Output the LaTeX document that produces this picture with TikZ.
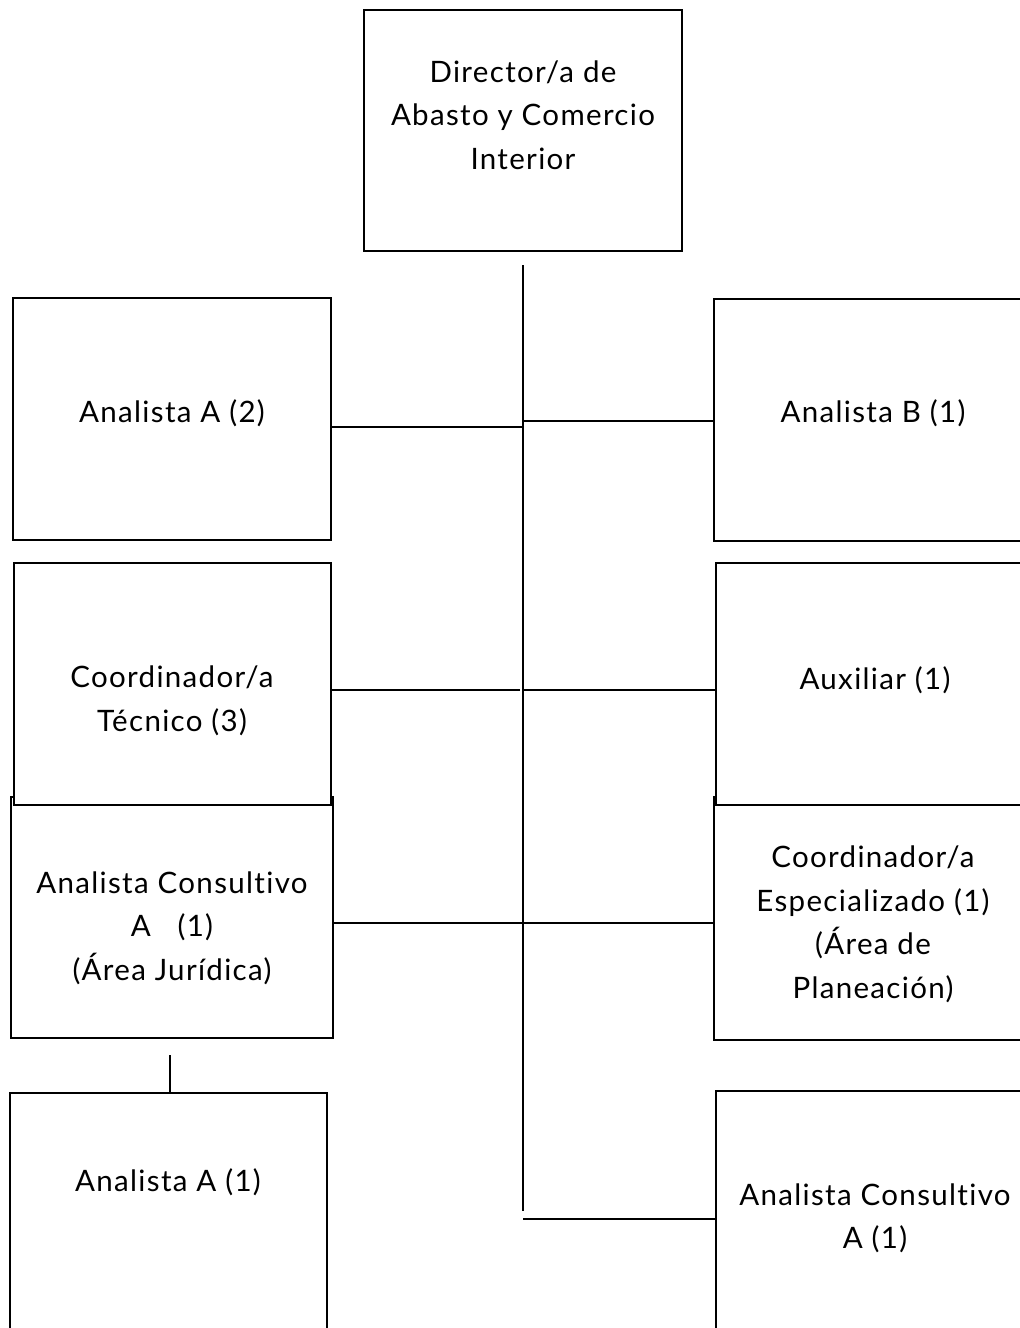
\documentclass[tikz,border=0pt]{standalone}
\usepackage{fontspec}
\setmainfont{Lato}[LetterSpace=4.5,Ligatures={NoCommon}]
\begin{document}
\begin{tikzpicture}[x=1pt,y=-1pt,
  box/.style={draw=black,fill=white,line width=1.6pt,rectangle,inner sep=0pt,outer sep=0pt,minimum width=318pt,minimum height=242pt},
  lbl/.style={align=center,font=\fontsize{29.5}{43.5}\selectfont,inner sep=0pt},
  conn/.style={draw=black,line width=1.6pt}]
\useasboundingbox (0,0) rectangle (1020,1328);
\clip (0,0) rectangle (1020,1328);
\fill[white] (0,0) rectangle (1020,1328);
% boxes (lower ones first so upper ones cover them)
\node[box,minimum height=241pt] (dir) at (523,130.5) {};
\node[box] (aa2) at (172,419) {};
\node[box] (ab) at (873,420) {};
\node[box,minimum width=322pt,minimum height=241pt] (acl) at (172,917.5) {};
\node[box,minimum height=243pt] (ce) at (873,918.5) {};
\node[box,minimum width=317pt] (ct) at (172.5,684) {};
\node[box] (aux) at (875,684) {};
\node[box,minimum width=317pt] (aa1) at (168.5,1214) {};
\node[box] (acr) at (875,1212) {};
% labels
\node[lbl] (tdir) at (523,115) {Director/a de\\Abasto y Comercio\\Interior};
\node[lbl] (taa2) at (172,413) {Analista A (2)};
\node[lbl] (tab) at (873,413) {Analista B (1)};
\node[lbl] (tct) at (172,701) {Coordinador/a\\Técnico (3)};
\node[lbl] (taux) at (875,680) {Auxiliar (1)};
\node[lbl] (tacl) at (172,928) {Analista Consultivo\\A\ \ \ (1)\\(Área Jurídica)};
\node[lbl] (tce) at (873,924.5) {Coordinador/a\\Especializado (1)\\(Área de\\Planeación)};
\node[lbl] (taa1) at (168,1182) {Analista A (1)};
\node[lbl] (tacr) at (875,1218.5) {Analista Consultivo\\A (1)};
% spine and connectors
\coordinate (top) at (523,265);
\coordinate (bot) at (523,1211);
\draw[conn] (top) -- (bot);
\coordinate (s1) at (522,427);
\draw[conn] (s1) -- (s1 -| aa2.east);
\coordinate (s2) at (523,421);
\draw[conn] (s2) -- (s2 -| ab.west);
\coordinate (s3) at (520,690);
\draw[conn] (s3) -- (s3 -| ct.east);
\coordinate (s4) at (524,690);
\draw[conn] (s4) -- (s4 -| aux.west);
\coordinate (s5) at (523,923);
\draw[conn] (s5) -- (s5 -| acl.east);
\draw[conn] (s5) -- (s5 -| ce.west);
\coordinate (v1) at (170,1055);
\draw[conn] (v1) -- (v1 |- aa1.north);
\coordinate (s6) at (523,1219);
\draw[conn] (s6) -- (s6 -| acr.west);
\end{tikzpicture}
\end{document}
